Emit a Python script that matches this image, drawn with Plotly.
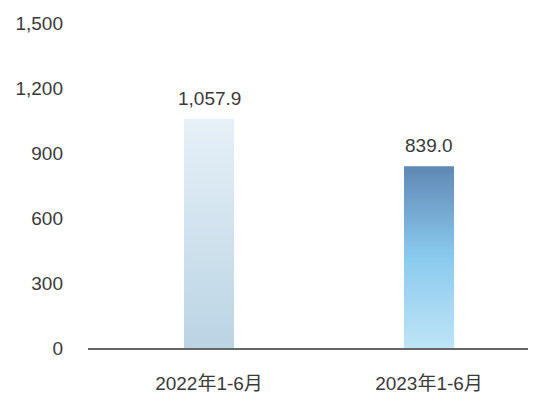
import plotly.graph_objects as go

categories = ["2022年1-6月", "2023年1-6月"]
values = [1057.9, 839.0]
value_labels = ["1,057.9", "839.0"]
y_ticks = [0, 300, 600, 900, 1200, 1500]
y_tick_labels = ["0", "300", "600", "900", "1,200", "1,500"]

# gradient stops (bottom -> top) per bar
grad_stops = [
    [(0.0, (186, 212, 228)), (1.0, (230, 240, 247))],
    [(0.0, (190, 228, 247)), (0.5, (138, 202, 238)), (1.0, (96, 136, 181))],
]

def interp(stops, t):
    for (t0, c0), (t1, c1) in zip(stops[:-1], stops[1:]):
        if t0 <= t <= t1:
            f = (t - t0) / (t1 - t0) if t1 > t0 else 0
            return tuple(int(round(a + (b - a) * f)) for a, b in zip(c0, c1))
    return stops[-1][1]

# Overlaid bars from 0, tallest first, each shorter one on top -> smooth gradient
N = 120
xs, hs, cols = [], [], []
for i, v in enumerate(values):
    for k in range(N):
        frac = 1 - k / N
        xs.append(i)
        hs.append(v * frac)
        c = interp(grad_stops[i], frac - 0.5 / N)
        cols.append("rgb(%d,%d,%d)" % c)

fig = go.Figure()
fig.add_trace(go.Bar(x=xs, y=hs, width=0.227,
                     marker=dict(color=cols, line=dict(width=0)),
                     hoverinfo="skip", showlegend=False))

for i, (v, lab) in enumerate(zip(values, value_labels)):
    fig.add_annotation(x=i, y=v, text=lab, showarrow=False, yanchor="bottom",
                       yshift=8, font=dict(size=19, color="#3a3a3a"))

font_family = "Liberation Sans, Arial, Noto Sans CJK SC, sans-serif"
fig.update_layout(
    width=526, height=385,
    margin=dict(l=80, r=6, t=15, b=45),
    plot_bgcolor="white", paper_bgcolor="white",
    font=dict(family=font_family, size=19, color="#3a3a3a"),
    barmode="overlay",
    xaxis=dict(range=[-0.55, 1.45], tickvals=[0, 1], ticktext=categories,
               showgrid=False, zeroline=False, showline=True, automargin=False,
               linecolor="#666666", linewidth=1.5, ticks="",
               ticklabelstandoff=17, tickfont=dict(size=19, color="#3a3a3a")),
    yaxis=dict(range=[0, 1500], tickvals=y_ticks, ticktext=y_tick_labels,
               showgrid=False, zeroline=False, showline=False, automargin=False,
               ticks="",
               ticklabelstandoff=24, tickfont=dict(size=19, color="#3a3a3a")),
)

fig.write_html("out.html")
